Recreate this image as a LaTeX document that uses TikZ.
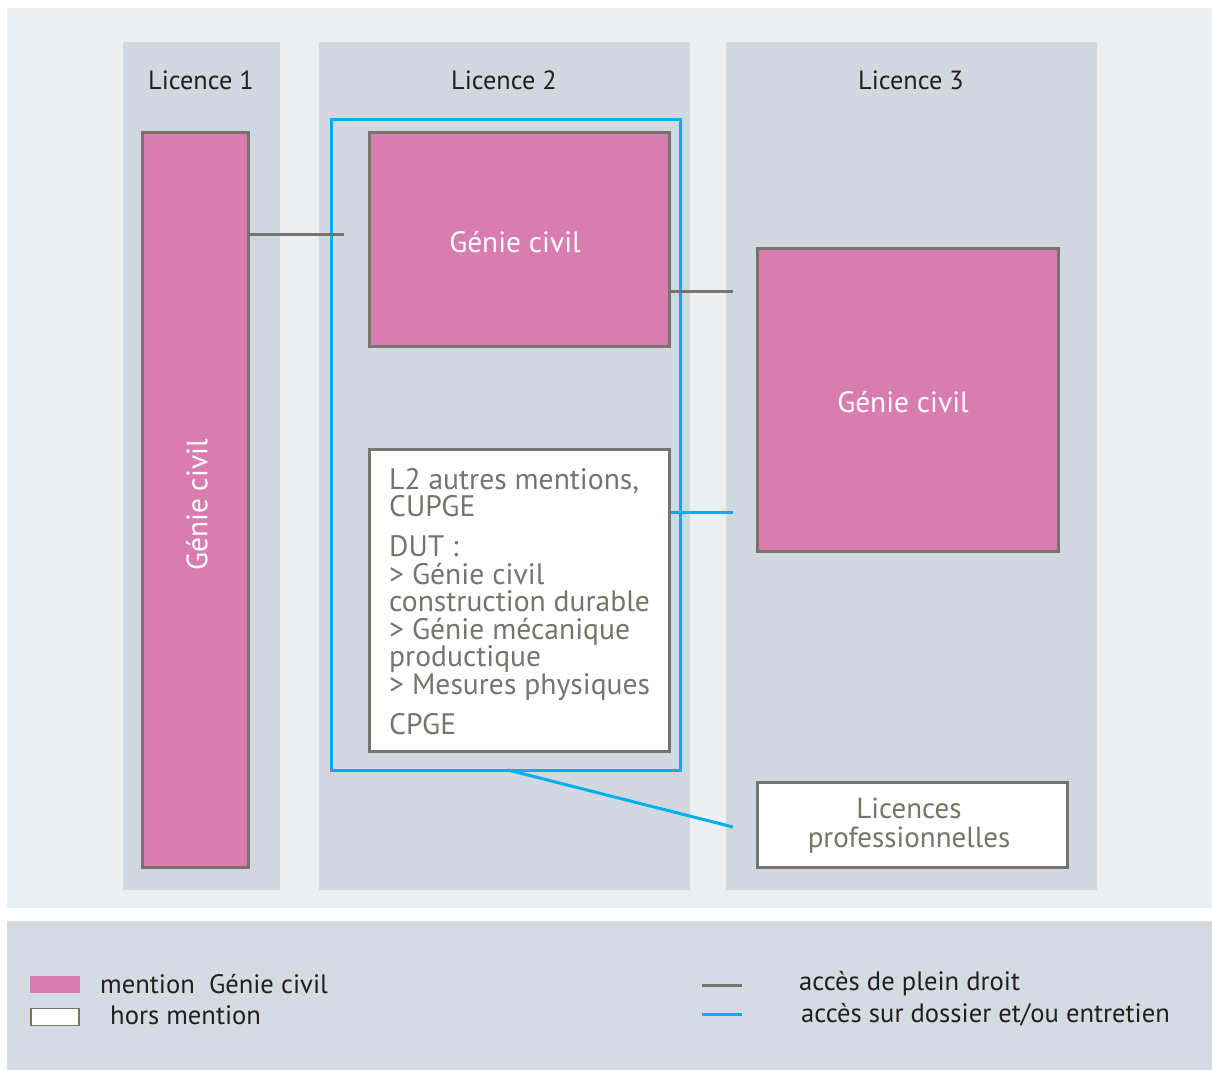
\documentclass[tikz,border=0pt]{standalone}
\usepackage{fontspec}
\setmainfont{PT Sans}
\definecolor{panel}{HTML}{ECF0F3}
\definecolor{colbg}{HTML}{D1D8E0}
\definecolor{legbg}{HTML}{D4DBE2}
\definecolor{pink}{HTML}{D97DB0}
\definecolor{edgegray}{HTML}{77736D}
\definecolor{cyanline}{HTML}{00AEEF}
\definecolor{darktext}{HTML}{231F20}
\tikzset{
  pinkbox/.style={draw=edgegray, line width=3pt, fill=pink, inner sep=0pt},
  pinklabel/.style={inner sep=0pt, text=white, font=\fontsize{29.4}{30}\selectfont},
  whitebox/.style={draw=edgegray, line width=3pt, fill=white, inner sep=0pt},
  coltitle/.style={text=darktext, font=\fontsize{26.3}{28}\selectfont, inner sep=0pt},
  plain/.style={draw=edgegray, line width=3pt},
  dossier/.style={draw=cyanline, line width=3pt},
  legtext/.style={text=darktext, font=\fontsize{26.6}{28}\selectfont, anchor=west, inner sep=0pt},
}
\begin{document}
\begin{tikzpicture}[x=1pt,y=-1pt]
\useasboundingbox (0,0) rectangle (1212,1070);
\fill[white] (0,0) rectangle (1212,1070);
% panels
\fill[panel] (7,8) rectangle (1212,908);
\fill[legbg] (7,921) rectangle (1212,1070);
\fill[colbg] (123,42) rectangle (280,890);
\fill[colbg] (319,42) rectangle (690,890);
\fill[colbg] (726,42) rectangle (1097,890);
% titles
\node[coltitle] (t1) at (201,80) {Licence 1};
\node[coltitle] (t2) at (504,80) {Licence 2};
\node[coltitle] (t3) at (911,80) {Licence 3};
% blue frame
\node[dossier, minimum width=349, minimum height=650, inner sep=0pt] (frame) at (505.5,445) {};
% boxes
\node[pinkbox, minimum width=106, minimum height=734] (l1) at (195,500) {};
\node[pinklabel, rotate=90] (l1t) at (197,505) {Génie civil};
\node[pinkbox, minimum width=300, minimum height=213] (l2) at (519,239.5) {};
\node[pinklabel] (l2t) at (515,242) {Génie civil};
\node[pinkbox, minimum width=301, minimum height=303] (l3) at (907.5,399.5) {};
\node[pinklabel] (l3t) at (903,402) {Génie civil};
\node[whitebox, minimum width=300, minimum height=302] (w2) at (519,600) {};
\node[anchor=north west, inner sep=0pt, align=left, text=edgegray, font=\fontsize{29.6}{27.5}\selectfont] (w2t) at (389,468)
 {L2 autres mentions,\\ CUPGE\\[12.5pt] DUT :\\ > Génie civil\\ construction durable\\ > Génie mécanique\\ productique\\ > Mesures physiques\\[12.5pt] CPGE};
\node[whitebox, minimum width=310, minimum height=85] (lp) at (912,824.5) {};
\node[align=center, inner sep=0pt, text=edgegray, font=\fontsize{29}{29}\selectfont] (lpt) at (909,826) {Licences\\ professionnelles};
% connectors
\coordinate (e1) at (344,234);
\coordinate (e2) at (733,291);
\coordinate (e3) at (733,512);
\coordinate (e4) at (733,827);
\coordinate (s4) at (508,770);
\draw[plain] (l1.east |- e1) -- (e1);
\draw[plain] (l2.east |- e2) -- (e2);
\draw[dossier] (w2.east |- e3) -- (e3);
\draw[dossier] (s4) -- (e4);
% legend
\fill[pink] (30,976) rectangle (80,993);
\node[draw=edgegray!80!olive, line width=1.5pt, fill=white, minimum width=48, minimum height=17, inner sep=0pt] (lw) at (55,1017) {};
\node[legtext] (lt1) at (100,984) {mention\ \ Génie civil};
\node[legtext] (lt2) at (110,1015) {hors mention};
\coordinate (g1) at (702,985); \coordinate (g2) at (742,985);
\coordinate (b1) at (702,1014); \coordinate (b2) at (742,1014);
\draw[plain] (g1) -- (g2);
\draw[dossier] (b1) -- (b2);
\node[legtext] (lt3) at (799,984) {accès de plein droit};
\node[legtext] (lt4) at (801,1015) {accès sur dossier et/ou entretien};
\end{tikzpicture}
\end{document}
